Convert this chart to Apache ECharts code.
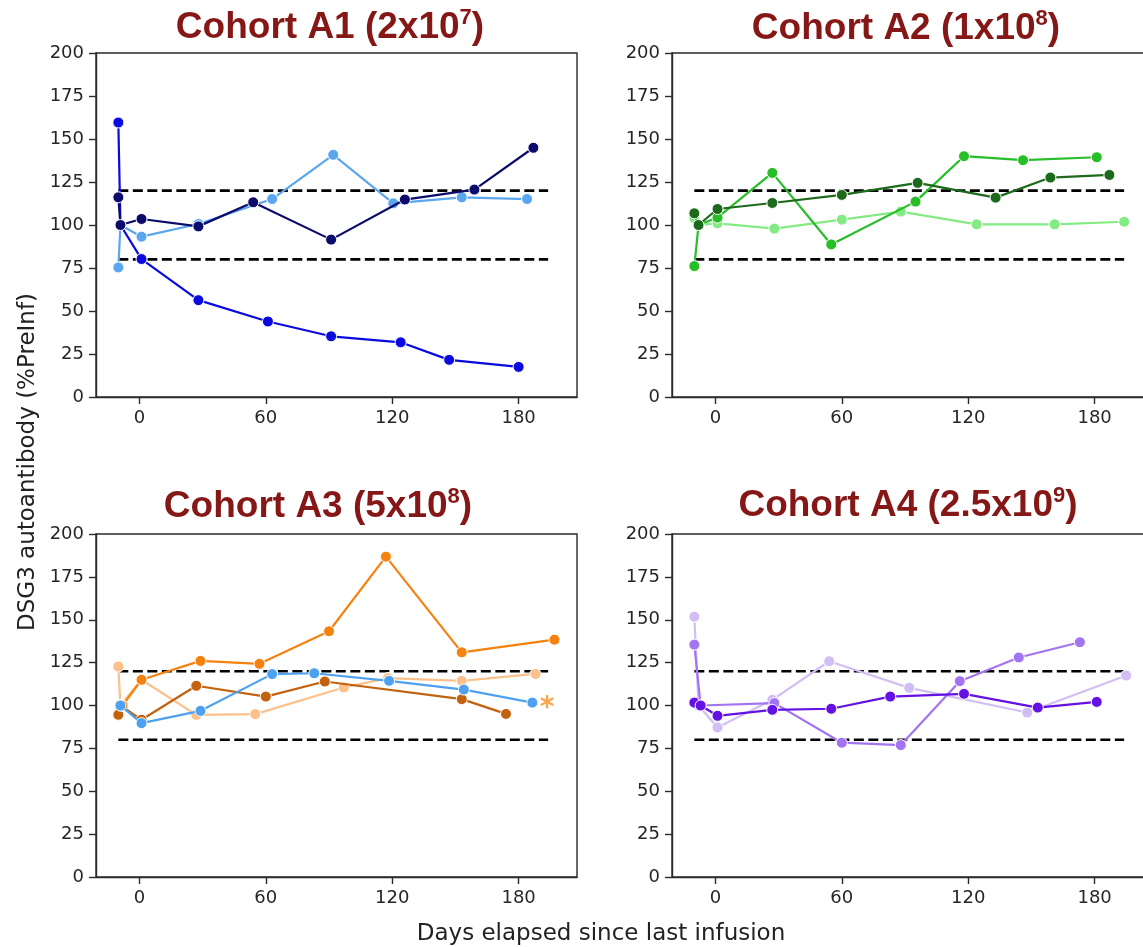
<!DOCTYPE html>
<html><head><meta charset="utf-8">
<script src="https://cdn.jsdelivr.net/npm/echarts@6/dist/echarts.min.js"></script>
<style>html,body{margin:0;padding:0;background:#fff;overflow:hidden}#c{width:1170px;height:947px}</style>
</head><body><div id="c"></div>
<script>
// ---------- DATA ----------
const xTickValues = [0, 60, 120, 180];
const yMin = 0, yMax = 200, yStep = 25;
const refLevels = [80, 120];
const refSpan = [-10, 194];

// Cohort A1 (2x10^7)  [day, %PreInf]
const a1Blue      = [[-10,159.6],[-9,100],[1,80.2],[28,56.3],[61,43.9],[91,35.3],[124,31.8],[147,21.6],[180,17.5]];
const a1LightBlue = [[-10,75.3],[-9,100],[1,93.2],[28,100.6],[63,115.1],[92,140.8],[120.5,112.6],[153,116.1],[184,115.1]];
const a1Navy      = [[-10,116.1],[-9,100],[1,103.5],[28,99.2],[54,113.2],[91,91.5],[126,114.8],[159,120.6],[187,144.9]];

// Cohort A2 (1x10^8)
const a2Light  = [[-10,104],[-8,100],[1,101],[28,97.9],[60,103.1],[88,107.8],[124,100.4],[161,100.4],[194,101.9]];
const a2Medium = [[-10,76.1],[-8,100],[1,104.3],[27,130.3],[55,88.7],[95,113.6],[118,140],[146,137.7],[181,139.4]];
const a2Dark   = [[-10,106.8],[-8,100],[1,109.3],[27,112.8],[60,117.5],[96,124.5],[133,115.9],[159,127.6],[187,129.1]];

// Cohort A3 (5x10^8)
const a3Peach  = [[-10,122.7],[-9,100],[1,115],[27,94.5],[55,95],[97,110.5],[118,116],[153,114.4],[188,118.4]];
const a3Brown  = [[-10,94.6],[-9,100],[1,91.7],[27,111.5],[60,105.2],[88,114],[153,103.7],[174,95.1]];
const a3Orange = [[-8,100],[1,115],[29,126],[57,124.3],[90,143.3],[117,186.8],[153,131],[197,138.4]];
const a3Blue   = [[-9,100],[1,89.7],[29,96.9],[63,118.3],[83,118.8],[118.5,114.4],[154,109.3],[186.5,101.7]];
const a3Asterisk = [[193.5,101.5]];

// Cohort A4 (2.5x10^9)
const a4Lavender = [[-10,151.8],[-8,100],[1,87.2],[27,103.3],[54,125.8],[92,110.3],[148,95.9],[195,117.5]];
const a4Medium   = [[-10,135.5],[-7,100],[28,101.4],[60,78.3],[88,76.9],[116,114.2],[144,128],[173,136.9]];
const a4Violet   = [[-10,101.7],[-7,100],[1,94],[27,97.5],[55,98.1],[83,105.2],[118,106.8],[153,98.8],[181,102.1]];

const panelTitles = [['Cohort A1 (2x10','7',')'],['Cohort A2 (1x10','8',')'],['Cohort A3 (5x10','8',')'],['Cohort A4 (2.5x10','9',')']];
const yAxisTitle = 'DSG3 autoantibody (%PreInf)';
const xAxisTitle = 'Days elapsed since last infusion';

// ---------- STYLE / LAYOUT ----------
const panelSeries = [
  [[a1Blue,'#0a0ae0'],[a1LightBlue,'#5aa6ef'],[a1Navy,'#0b0b6b']],
  [[a2Light,'#84ea84'],[a2Medium,'#27be27'],[a2Dark,'#1d6a1d']],
  [[a3Peach,'#fcc08a'],[a3Brown,'#c2620f'],[a3Orange,'#f5820e'],[a3Blue,'#4ea0f0']],
  [[a4Lavender,'#d3bdf5'],[a4Medium,'#a274ef'],[a4Violet,'#6412e4']]
];
const grids = [
  {left:96, top:53, width:481, height:344},
  {left:672, top:53, width:481, height:344},
  {left:96, top:534, width:481, height:343},
  {left:672, top:534, width:481, height:343}
];
const titlePos = [[330,7],[906,8],[318,486],[908,485]];
const axisColor = '#2a2a2a';
const tickFont = 'DejaVu Sans';

const option = {
  animation:false,
  backgroundColor:'#fff',
  grid: grids.map(g => Object.assign({show:true, borderColor:axisColor, borderWidth:1.4, backgroundColor:'transparent'}, g)),
  xAxis: grids.map((g,i) => ({
    type:'value', gridIndex:i, min:-20.6, max:207.7,
    axisLine:{show:true, onZero:false, lineStyle:{color:axisColor, width:1.4}},
    axisTick:{show:true, length:7, lineStyle:{color:axisColor, width:1.4}, customValues:xTickValues},
    axisLabel:{show:true, customValues:xTickValues, margin:12, color:'#262626', fontSize:18, fontFamily:tickFont},
    splitLine:{show:false}
  })),
  yAxis: grids.map((g,i) => ({
    type:'value', gridIndex:i, min:yMin, max:yMax, interval:yStep,
    axisLine:{show:true, onZero:false, lineStyle:{color:axisColor, width:1.4}},
    axisTick:{show:true, length:7, lineStyle:{color:axisColor, width:1.4}},
    axisLabel:{show:true, margin:12, color:'#262626', fontSize:18, fontFamily:tickFont},
    splitLine:{show:false}
  })),
  title: panelTitles.map((t,i) => ({
    text:'{m|'+t[0]+'}{s|'+t[1]+'}{m|'+t[2]+'}',
    left:titlePos[i][0], top:titlePos[i][1], textAlign:'center', padding:0,
    textStyle:{
      rich:{
        m:{fontSize:37, fontWeight:'bold', fontFamily:'Liberation Sans', color:'#861717', lineHeight:42},
        s:{fontSize:22, fontWeight:'bold', fontFamily:'Liberation Sans', color:'#861717', lineHeight:32, verticalAlign:'top'}
      }
    }
  })),
  graphic:[
    {type:'text', x:28, y:462, rotation:Math.PI/2,
     style:{text:yAxisTitle, fontSize:23, fontFamily:'DejaVu Sans', fill:'#222', textAlign:'center', textVerticalAlign:'middle'}},
    {type:'text', x:601, y:934,
     style:{text:xAxisTitle, fontSize:23, fontFamily:'DejaVu Sans', fill:'#222', textAlign:'center', textVerticalAlign:'middle'}}
  ],
  series: []
};

grids.forEach((g,i) => {
  refLevels.forEach(lv => {
    option.series.push({
      type:'line', xAxisIndex:i, yAxisIndex:i, silent:true, symbol:'none', z:1,
      data:[[refSpan[0],lv],[refSpan[1],lv]],
      lineStyle:{color:'#000', width:2.6, type:[10,4.5]}
    });
  });
  panelSeries[i].forEach(([data,color],k) => {
    option.series.push({
      type:'line', xAxisIndex:i, yAxisIndex:i, z:2+k, data:data,
      symbol:'circle', symbolSize:11, showSymbol:true,
      lineStyle:{color:color, width:2.2},
      itemStyle:{color:color, borderColor:'#fff', borderWidth:1}
    });
  });
});
option.series.push({
  type:'scatter', xAxisIndex:2, yAxisIndex:2, data:a3Asterisk, symbolSize:1, itemStyle:{color:'transparent'},
  label:{show:true, formatter:'*', position:'inside', offset:[0,6], color:'#f5901e', fontSize:28, fontWeight:'bold', fontFamily:'DejaVu Sans'}
});

const chart = echarts.init(document.getElementById('c'), null, {renderer:'canvas'});
chart.setOption(option);
</script></body></html>
